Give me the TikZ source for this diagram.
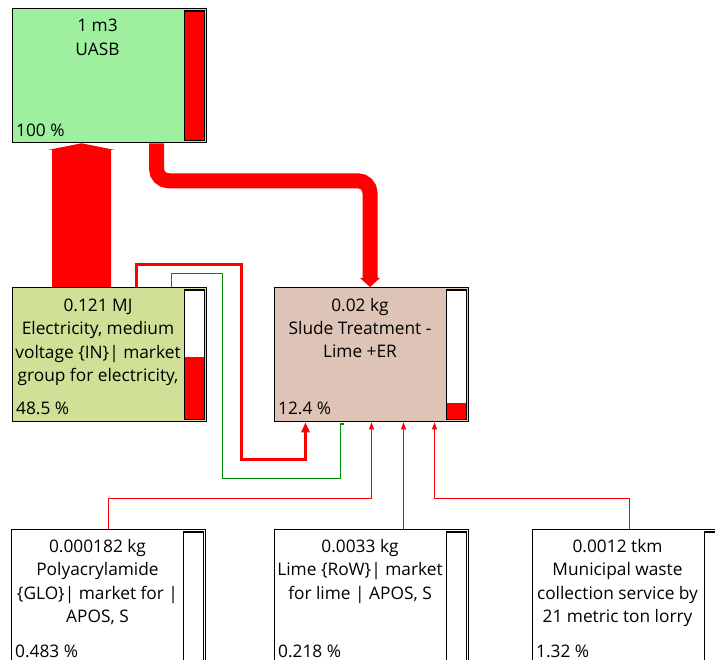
\documentclass[tikz,border=0pt]{standalone}
\usepackage{fontspec}
\setmainfont{Open Sans}
\usetikzlibrary{arrows.meta,calc}
\definecolor{uasbgreen}{RGB}{158,240,158}
\definecolor{elecgreen}{RGB}{208,224,150}
\definecolor{sludebrown}{RGB}{222,196,182}
\definecolor{flowgreen}{RGB}{0,140,0}
\tikzset{
  procbox/.style={draw=black, line width=1.3pt, minimum width=194pt, minimum height=134pt, inner sep=0pt, anchor=north west},
  barframe/.style={draw=black, line width=1.1pt},
  title/.style={align=center, anchor=base, font=\fontsize{17.3}{23.5}\selectfont, inner sep=0pt},
  pct/.style={anchor=base west, font=\fontsize{17.3}{23.5}\selectfont, inner sep=0pt},
  thinred/.style={draw=red, line width=1.1pt, -{Triangle[length=7pt,width=5pt]}},
  medred/.style={draw=red, line width=3pt, -{Triangle[length=10pt,width=8pt]}},
  greenflow/.style={draw=flowgreen, line width=1.1pt},
}
\newcommand\mybar[2]{%
  \fill[white] ([xshift=-23pt,yshift=-3pt]#1.north east) rectangle ([xshift=-3pt,yshift=3pt]#1.south east);
  \fill[red] ([xshift=-23pt,yshift=3pt]#1.south east) rectangle ([xshift=-3pt,yshift={3pt+#2*128pt}]#1.south east);
  \draw[barframe] ([xshift=-23pt,yshift=-3pt]#1.north east) rectangle ([xshift=-3pt,yshift=3pt]#1.south east);
}
\begin{document}
\begin{tikzpicture}[x=1pt,y=-1pt]
\useasboundingbox (0,0) rectangle (715,660);
% boxes
\node[procbox, fill=uasbgreen] (uasb) at (12,8) {};
\node[procbox, fill=elecgreen] (elec) at (12,287) {};
\node[procbox, fill=sludebrown] (slude) at (274,287) {};
\node[procbox, fill=white] (poly) at (11,529) {};
\node[procbox, fill=white] (lime) at (274,529) {};
\node[procbox, fill=white] (muni) at (532,529) {};
\mybar{uasb}{1}
\mybar{elec}{0.485}
\mybar{slude}{0.124}
\mybar{poly}{0.00483}
\mybar{lime}{0.00218}
\mybar{muni}{0.0132}
% texts (anchor = baseline of the last line)
\node[title] (uasbt) at ([xshift=85.5pt,yshift=-47.5pt]uasb.north west) {1 m3\\UASB};
\node[title] (elect) at ([xshift=86pt,yshift=-94.5pt]elec.north west) {0.121 MJ\\Electricity, medium\\voltage \{IN\}| market\\group for electricity,};
\node[title] (sludet) at ([xshift=86pt,yshift=-71pt]slude.north west) {0.02 kg\\Slude Treatment -\\Lime +ER};
\node[title] (polyt) at ([xshift=86.5pt,yshift=-93.5pt]poly.north west) {0.000182 kg\\Polyacrylamide\\\{GLO\}| market for |\\APOS, S};
\node[title] (limet) at ([xshift=86pt,yshift=-70pt]lime.north west) {0.0033 kg\\Lime \{RoW\}| market\\for lime | APOS, S};
\node[title] (munit) at ([xshift=85.5pt,yshift=-93.5pt]muni.north west) {0.0012 tkm\\Municipal waste\\collection service by\\21 metric ton lorry};
\node[pct] (uasbp) at ([xshift=4pt,yshift=7pt]uasb.south west) {100 \%};
\node[pct] (elecp) at ([xshift=4pt,yshift=8pt]elec.south west) {48.5 \%};
\node[pct] (sludep) at ([xshift=4pt,yshift=8pt]slude.south west) {12.4 \%};
\node[pct] (polyp) at ([xshift=4pt,yshift=7pt]poly.south west) {0.483 \%};
\node[pct] (limep) at ([xshift=4pt,yshift=7pt]lime.south west) {0.218 \%};
\node[pct] (munip) at ([xshift=4pt,yshift=7pt]muni.south west) {1.32 \%};
% big arrow electricity -> UASB
\fill[red] ([xshift=40pt]elec.north west) -- ([xshift=40pt,yshift=137pt]elec.north west)
  -- ([xshift=36pt,yshift=137pt]elec.north west) -- ([xshift=69.5pt]uasb.south west)
  -- ([xshift=103pt,yshift=137pt]elec.north west) -- ([xshift=99pt,yshift=137pt]elec.north west)
  -- ([xshift=99pt]elec.north west) -- cycle;
% thick arrow UASB -> slude
\coordinate (sludein) at ([xshift=96pt]slude.north west);
\draw[red, line width=15pt, rounded corners=12pt] ([xshift=144.5pt]uasb.south west) -- ++(0,37.5) -| ([yshift=7pt]sludein);
\fill[red] ([xshift=-10pt,yshift=9pt]sludein) -- ([xshift=10pt,yshift=9pt]sludein) -- (sludein) -- cycle;
% medium red electricity -> slude
\draw[medred] ([xshift=124pt]elec.north west) |- (241.7,264.5) |- ([xshift=31.5pt,yshift=-37pt]slude.south west) -- ([xshift=31.5pt]slude.south west);
% green flow
\draw[greenflow] ([xshift=159.5pt]elec.north west) |- (222.5,273.5) |- (340.5,478.5) -- (340.5,424) -- ++(3,0);
% thin red inputs
\draw[thinred] ([xshift=97.5pt]poly.north west) |- ([xshift=97.5pt,yshift=-76.5pt]slude.south west) -- ([xshift=97.5pt]slude.south west);
\draw[thinred] ([xshift=129.5pt]lime.north west) -- ([xshift=129.5pt]slude.south west);
\draw[thinred] ([xshift=97.5pt]muni.north west) |- ([xshift=160.5pt,yshift=-76.5pt]slude.south west) -- ([xshift=160.5pt]slude.south west);
\end{tikzpicture}
\end{document}
